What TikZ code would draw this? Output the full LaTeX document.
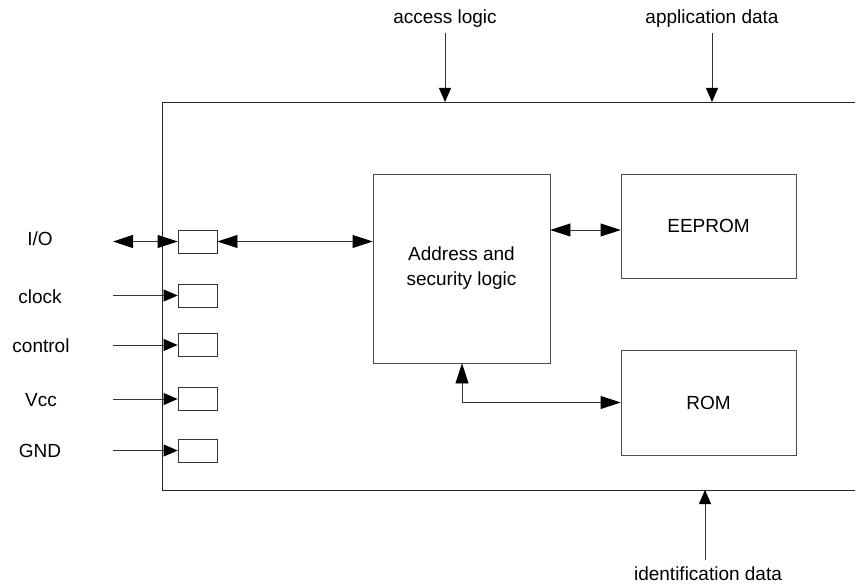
\documentclass[tikz,border=0pt]{standalone}
\usepackage{fontspec}
\setmainfont{Liberation Sans}
\usetikzlibrary{arrows.meta,positioning}

\tikzset{
    block/.style={draw=black!70, line width=0.8pt, inner sep=0pt, align=center},
    pinbox/.style={draw=black!80, line width=0.8pt, minimum width=39pt, minimum height=23pt, inner sep=0pt},
    lbl/.style={font=\fontsize{19}{25}\selectfont, inner sep=2pt},
    sig/.style={-{Triangle[length=14pt,width=12pt,color=black]}, line width=0.8pt, draw=black!80},
    bus/.style={{Triangle[length=20pt,width=13pt,color=black]}-{Triangle[length=20pt,width=13pt,color=black]}, line width=0.8pt, draw=black!80}
}

\begin{document}
\begin{tikzpicture}[x=1pt, y=-1pt, font=\fontsize{19}{25}\selectfont]
        \useasboundingbox (0,0) rectangle (855,588);

        % Chip outline (open to the right)
        \draw[line width=0.8pt, black!85] (855,102) -| (162,490) -- (855,490);

        % Inner blocks
        \node[block, minimum width=177pt, minimum height=189pt] (addr) at (461.5,268.5) {Address and\\security logic};
        \node[block, minimum width=175pt, minimum height=104pt] (eeprom) at (708.5,226) {EEPROM};
        \node[block, minimum width=175pt, minimum height=105pt] (rom) at (708.5,402.5) {ROM};

        % Contact pads
        \node[pinbox] (pio) at (197.5,241.5) {};
        \node[pinbox] (pclk) at (197.5,295.5) {};
        \node[pinbox] (pctl) at (197.5,345) {};
        \node[pinbox] (pvcc) at (197.5,399) {};
        \node[pinbox] (pgnd) at (197.5,450.5) {};

        % Pin labels
        \node[lbl] (lio) at (40,239) {I/O};
        \node[lbl] (lclk) at (40,297) {clock};
        \node[lbl] (lctl) at (41,346) {control};
        \node[lbl] (lvcc) at (41,400) {Vcc};
        \node[lbl] (lgnd) at (40,451) {GND};

        % Free ends of the pin lines
        \coordinate (eio) at (113,241.5);
        \coordinate (eclk) at (113,295.5);
        \coordinate (ectl) at (113,345);
        \coordinate (evcc) at (113,399);
        \coordinate (egnd) at (113,450.5);

        \draw[bus] (eio) -- (pio.west);
        \draw[sig] (eclk) -- (pclk.west);
        \draw[sig] (ectl) -- (pctl.west);
        \draw[sig] (evcc) -- (pvcc.west);
        \draw[sig] (egnd) -- (pgnd.west);

        % Internal buses
        \draw[bus] (pio.east) -- (pio.east -| addr.west);
        \draw[bus] (addr.east |- 0,230) -- (eeprom.west |- 0,230);
        \coordinate (corner) at (462,402.5);
        \draw[bus] (addr.south -| corner) -- (corner) -- (rom.west |- corner);

        % Data flowing in from outside
        \node[lbl] (lacc) at (445,19) {access logic};
        \node[lbl] (lapp) at (712,19) {application data};
        \node[lbl] (lid) at (708,574) {identification data};
        \coordinate (tacc) at (445,102);
        \coordinate (tapp) at (712,102);
        \coordinate (tid) at (705,490);

        \draw[sig] (tacc |- 0,33) -- (tacc);
        \draw[sig] (tapp |- 0,33) -- (tapp);
        \draw[sig] (tid |- 0,560) -- (tid);
    \end{tikzpicture}
\end{document}
